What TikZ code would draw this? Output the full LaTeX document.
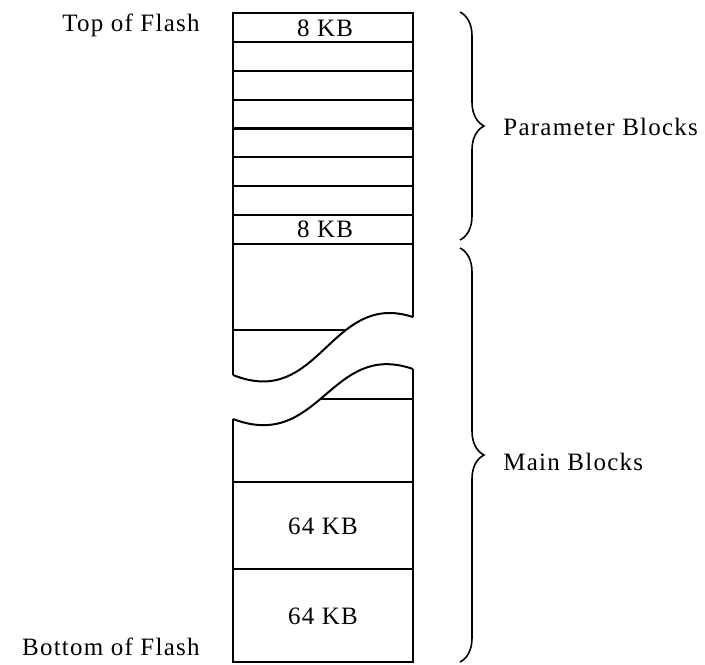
\documentclass[tikz,border=0pt]{standalone}
\usepackage{fontspec}
\setmainfont{Liberation Serif}[LetterSpace=5]
\usetikzlibrary{positioning,decorations.pathreplacing}
\tikzset{
  wall/.style={line width=1.1pt},
  wave/.style={line width=1pt},
  sizetxt/.style={font=\fontsize{12.5}{14}\selectfont, inner sep=0pt},
  sidetxt/.style={font=\fontsize{12.5}{14}\selectfont, inner sep=0pt},
  curly/.style={decorate, decoration={brace, amplitude=12pt}, line width=0.8pt},
}

\begin{document}
\begin{tikzpicture}[x=0.5pt,y=-0.5pt]
\useasboundingbox (0,0) rectangle (705,664);
% parameter blocks
\foreach \i in {0,...,7}
  \draw[wall] (233,13+28.875*\i) rectangle (413,13+28.875*\i+28.875);
\node[sizetxt] (ptop) at (325,28) {8 KB};
\node[sizetxt] (pbot) at (325,229) {8 KB};
% main blocks, with the break
\draw[wall] (233,375) -- (233,244) -- (413,244) -- (413,317);
\draw[wall] (233,330) -- (346,330);
\draw[wave] (233,375) .. controls (320,410) and (330,290) .. (413,317);
\draw[wave] (233,419) .. controls (320,452) and (330,340) .. (413,369);
\draw[wall] (320,399) -- (413,399);
\draw[wall] (413,369) -- (413,662) -- (233,662) -- (233,419);
\draw[wall] (233,482) -- (413,482);
\draw[wall] (233,569) -- (413,569);
\node[sizetxt] (mone) at (323,526) {64 KB};
\node[sizetxt] (mtwo) at (323,616) {64 KB};
% ends of the flash
\node[sidetxt, anchor=base east] (top) at (200,31) {Top of Flash};
\node[sidetxt, anchor=base east] (bottom) at (200,655) {Bottom of Flash};
% braces
\coordinate (pa) at (460,12);
\coordinate (pb) at (460,240);
\coordinate (ma) at (460,248);
\coordinate (mb) at (460,662);
\draw[curly] (pa) -- (pb);
\draw[curly] (ma) -- (mb);
\node[sidetxt, anchor=west] (param) at (503,127) {Parameter Blocks};
\node[sidetxt, anchor=west] (main) at (503,462) {Main Blocks};
\end{tikzpicture}
\end{document}
